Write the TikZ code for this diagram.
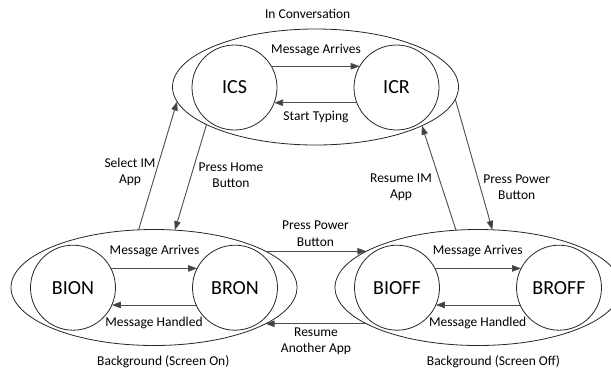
\documentclass[tikz,border=0pt]{standalone}
\usepackage{fontspec}
\setmainfont{Carlito}
\usetikzlibrary{shapes.geometric,arrows.meta}
\begin{document}
\begin{tikzpicture}[x=1pt,y=-1pt,
 group/.style={ellipse,draw=black!85,line width=0.8pt,minimum width=286pt,minimum height=116pt,inner sep=0pt,outer sep=0pt},
 state/.style={circle,draw=black!85,line width=0.8pt,minimum size=85pt,inner sep=0pt,outer sep=0pt,font=\fontsize{20}{24}\selectfont},
 lbl/.style={font=\fontsize{13.5}{16.5}\selectfont,align=center,inner sep=0pt},
 arr/.style={draw=black!70,line width=0.9pt,-{Triangle[length=9pt,width=6.5pt,fill=black!75]}}]
\clip (0,0) rectangle (611,368);
\node[group] (IC) at (315.5,87) {};
\node[group] (BON) at (154,287.5) {};
\node[group] (BOFF) at (478,287.5) {};
\node[state] (ICS) at (234.5,87.5) {ICS};
\node[state] (ICR) at (396.5,87.5) {ICR};
\node[state] (BION) at (73,287.7) {BION};
\node[state] (BRON) at (235,287.7) {BRON};
\node[state] (BIOFF) at (397,287.7) {BIOFF};
\node[state] (BROFF) at (559,287.7) {BROFF};
% inner transitions
\draw[arr] (ICS.30) -- (ICR.150);
\draw[arr] (ICR.201) -- (ICS.339);
\draw[arr] (BION.27) -- (BRON.153);
\draw[arr] (BRON.204) -- (BION.336);
\draw[arr] (BIOFF.27) -- (BROFF.153);
\draw[arr] (BROFF.204) -- (BIOFF.336);
% between groups
\draw[arr] (BON.105) -- (IC.186);
\draw[arr] (IC.199) -- (BON.70);
\draw[arr] (BOFF.111) -- (IC.340);
\draw[arr] (IC.355) -- (BOFF.76);
\draw[arr] (BON.18) -- (BOFF.162);
\draw[arr] (BOFF.198) -- (BON.342);
% labels
\node[lbl] (tIC) at (307.7,14) {In Conversation};
\node[lbl] (tBON) at (163.3,361.7) {Background (Screen On)};
\node[lbl] (tBOFF) at (493.5,361.7) {Background (Screen Off)};
\node[lbl] (l1) at (316,50) {Message Arrives};
\node[lbl] (l2) at (316,117) {Start Typing};
\node[lbl] (l3) at (154.5,251) {Message Arrives};
\node[lbl] (l4) at (154,322.7) {Message Handled};
\node[lbl] (l5) at (477.7,251) {Message Arrives};
\node[lbl] (l6) at (477.7,322.7) {Message Handled};
\node[lbl] (l7) at (130,172) {Select IM\\App};
\node[lbl] (l8) at (231,175) {Press Home\\Button};
\node[lbl] (l9) at (401,187) {Resume IM\\App};
\node[lbl] (l10) at (516.7,187) {Press Power\\Button};
\node[lbl] (l11) at (315.5,233.5) {Press Power\\Button};
\node[lbl] (l12) at (316,341.3) {Resume\\Another App};
\end{tikzpicture}
\end{document}
